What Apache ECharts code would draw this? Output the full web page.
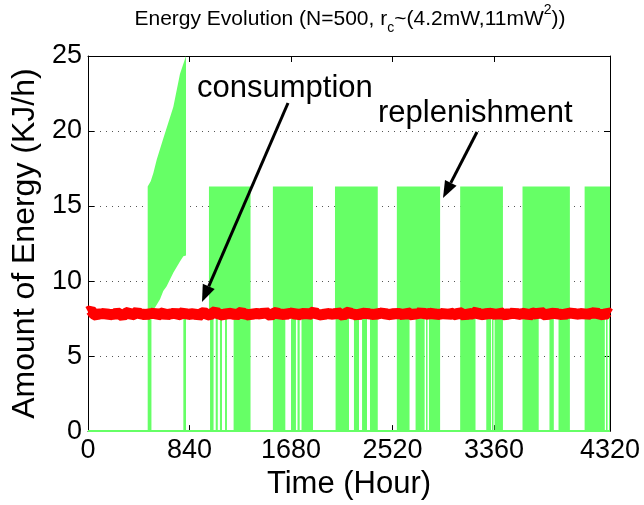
<!DOCTYPE html>
<html>
<head>
<meta charset="utf-8">
<title>Energy Evolution</title>
<script src="https://cdn.jsdelivr.net/npm/echarts@6/dist/echarts.min.js"></script>
<style>
  html, body { margin: 0; padding: 0; background: #fff; }
  #chart { width: 644px; height: 505px; }
</style>
</head>
<body>
<div id="chart"></div>
<script>
// Axis ticks
const xTicks = [0, 840, 1680, 2520, 3360, 4320];
const yTicks = [0, 5, 10, 15, 20, 25];

// Replenishment: periods where the harvested energy oscillates between
// the consumption level and the charged level [start hour, end hour]
const chargeBlocks = [[1001, 1345], [1530, 1862], [2044, 2398], [2556, 2914], [3080, 3434], [3596, 3988], [4110, 4320]];
const chargeLow = 7.8;
const chargeHigh = 16.3;

// Intervals in which replenishment drops all the way to zero [start hour, end hour]
const zeroDips = [
  [494, 525], [789, 811],
  [1010, 1039], [1057, 1074], [1092, 1109], [1134, 1150], [1205, 1345],
  [1530, 1633], [1680, 1721], [1734, 1752], [1767, 1862],
  [2049, 2160], [2201, 2243], [2268, 2309], [2334, 2398],
  [2556, 2661], [2711, 2786], [2797, 2810], [2822, 2914],
  [3080, 3207], [3296, 3335], [3343, 3356], [3365, 3434],
  [3596, 3730], [3819, 3855], [3894, 3988],
  [4110, 4277], [4287, 4300], [4312, 4320]
];

// Initial surge: upper and lower envelopes of the oscillation
const surgeUpperHours = [494, 519, 541, 569, 623, 706, 761, 811];
const surgeUpper = [16.3, 16.65, 17.2, 18.1, 19.5, 21.6, 23.8, 25.0];
const surgeLowerHours = [494, 525, 560, 596, 623, 651, 706, 761, 789, 811];
const surgeLower = [7.9, 7.9, 8.3, 8.78, 9.33, 9.66, 10.55, 11.3, 11.65, 11.7];

// Consumption, sampled every 24 hours from 0 to 4320
const sampleStep = 24;
const consumption = [
  7.95, 8.05, 7.80, 7.70, 7.88, 7.76, 7.92, 7.68, 7.83, 7.74,
  7.90, 7.79, 7.66, 7.85, 7.93, 7.72, 7.81, 7.97, 7.75, 7.84,
  7.69, 7.88, 7.78, 7.94, 7.71, 7.82, 7.90, 7.67, 7.86, 7.77,
  7.92, 7.73, 7.80, 7.96, 7.70, 7.85, 7.76, 7.89, 7.64, 7.83,
  7.91, 7.78, 7.72, 7.87, 7.99, 7.74, 7.81, 7.68, 7.93, 7.79,
  7.86, 7.70, 7.84, 7.95, 7.75, 7.82, 7.66, 7.90, 7.78, 7.88,
  7.73, 7.97, 7.80, 7.69, 7.85, 7.92, 7.76, 7.83, 7.71, 7.89,
  7.79, 7.94, 7.67, 7.84, 7.77, 7.91, 7.74, 7.86, 7.98, 7.72,
  7.81, 7.68, 7.90, 7.78, 7.85, 7.73, 7.93, 7.80, 7.70, 7.87,
  7.95, 7.76, 7.83, 7.65, 7.89, 7.79, 7.92, 7.74, 7.84, 7.71,
  7.88, 7.80, 7.96, 7.69, 7.82, 7.75, 7.90, 7.78, 7.86, 7.67,
  7.93, 7.81, 7.72, 7.87, 7.77, 7.99, 7.73, 7.85, 7.79, 7.91,
  7.70, 7.84, 7.76, 7.94, 7.68, 7.88, 7.80, 7.74, 7.92, 7.83,
  7.66, 7.89, 7.78, 7.85, 7.97, 7.71, 7.82, 7.75, 7.90, 7.79,
  7.87, 7.69, 7.93, 7.80, 7.73, 7.86, 7.77, 7.95, 7.72, 7.84,
  7.78, 7.91, 7.67, 7.83, 7.88, 7.74, 7.96, 7.81, 7.70, 7.86,
  7.79, 7.92, 7.75, 7.84, 7.68, 7.89, 7.80, 7.94, 7.73, 7.85,
  7.77, 7.90, 7.71, 7.87, 7.82, 7.96, 7.74, 7.83, 7.69, 7.92,
  7.80
];

const GREEN = '#66ff66';
const RED = '#ff0000';
const FONT = '"Liberation Sans", Arial, Helvetica, sans-serif';

const chart = echarts.init(document.getElementById('chart'), null, { renderer: 'canvas' });

function bandItem(params, api) {
  const p0 = api.coord([api.value(0), api.value(3)]);
  const p1 = api.coord([api.value(1), api.value(2)]);
  return {
    type: 'rect',
    shape: { x: p0[0], y: p0[1], width: Math.max(p1[0] - p0[0], 1), height: p1[1] - p0[1] },
    style: { fill: GREEN }
  };
}

function surgeItem(params, api) {
  const pts = [];
  for (let i = 0; i < surgeUpperHours.length; i++) pts.push(api.coord([surgeUpperHours[i], surgeUpper[i]]));
  for (let i = surgeLowerHours.length - 1; i >= 0; i--) pts.push(api.coord([surgeLowerHours[i], surgeLower[i]]));
  return { type: 'polygon', shape: { points: pts }, style: { fill: GREEN } };
}

const consumptionData = consumption.map((v, i) => [i * sampleStep, v]);
const chargeData = chargeBlocks.map(b => [b[0], b[1], chargeLow, chargeHigh]);
const dipData = zeroDips.map(b => [b[0], b[1], 0, chargeLow + 0.2]);

const axisColor = '#000';
const plainNumber = v => String(v);
const baseX = {
  type: 'value', min: 0, max: 4320,
  axisLine: { show: true, onZero: false, lineStyle: { color: axisColor, width: 1 } },
  axisTick: { show: true, inside: true, length: 6, customValues: xTicks, lineStyle: { color: axisColor } },
  splitLine: { show: false }
};
const baseY = {
  type: 'value', min: 0, max: 25, interval: 5,
  axisLine: { show: true, onZero: false, lineStyle: { color: axisColor, width: 1 } },
  axisTick: { show: true, inside: true, length: 6, lineStyle: { color: axisColor } }
};

const option = {
  animation: false,
  backgroundColor: '#fff',
  textStyle: { fontFamily: FONT },
  grid: { left: 88, top: 56, width: 522, height: 376, containLabel: false },
  xAxis: [
    Object.assign({}, baseX, {
      position: 'bottom',
      axisLabel: { customValues: xTicks, formatter: plainNumber, color: '#000', fontSize: 27, margin: 6, fontFamily: FONT },
      name: 'Time (Hour)', nameLocation: 'middle', nameGap: 34,
      nameTextStyle: { color: '#000', fontSize: 31, fontFamily: FONT }
    }),
    Object.assign({}, baseX, { position: 'top', axisLabel: { show: false } })
  ],
  yAxis: [
    Object.assign({}, baseY, {
      position: 'left',
      axisLabel: { formatter: plainNumber, color: '#000', fontSize: 27, margin: 6, fontFamily: FONT },
      splitLine: { show: true, lineStyle: { color: '#555', width: 1, type: [1, 5] } },
      name: 'Amount of Energy (KJ/h)', nameLocation: 'middle', nameGap: 46, nameRotate: 90,
      nameTextStyle: { color: '#000', fontSize: 32, fontFamily: FONT }
    }),
    Object.assign({}, baseY, { position: 'right', axisLabel: { show: false }, splitLine: { show: false } })
  ],
  series: [
    {
      type: 'line', name: 'replenishment floor', xAxisIndex: 0, yAxisIndex: 0,
      data: [[0, 0], [4320, 0]], symbol: 'none',
      lineStyle: { color: GREEN, width: 2 }, z: 3
    },
    {
      type: 'custom', name: 'replenishment', renderItem: bandItem, data: chargeData,
      encode: { x: [0, 1], y: [2, 3] }, clip: true, z: 3
    },
    {
      type: 'custom', name: 'replenishment dips', renderItem: bandItem, data: dipData,
      encode: { x: [0, 1], y: [2, 3] }, clip: true, z: 3
    },
    {
      type: 'custom', name: 'replenishment surge', renderItem: surgeItem, data: [[494, 811, 7.9, 25]],
      encode: { x: [0, 1], y: [2, 3] }, clip: true, z: 3
    },
    {
      type: 'line', name: 'consumption', data: consumptionData, symbol: 'none', clip: true,
      lineStyle: { color: RED, width: 11, join: 'bevel', cap: 'butt' }, z: 4
    }
  ]
};

chart.setOption(option);

// Arrow made of a shaft and a filled head
function arrow(x1, y1, x2, y2) {
  const ang = Math.atan2(y2 - y1, x2 - x1);
  const len = 17, half = 6.5;
  const bx = x2 - len * Math.cos(ang), by = y2 - len * Math.sin(ang);
  const nx = -Math.sin(ang), ny = Math.cos(ang);
  return [
    { type: 'line', shape: { x1: x1, y1: y1, x2: bx, y2: by }, style: { stroke: '#000', lineWidth: 3 }, z: 10 },
    { type: 'polygon', shape: { points: [[x2, y2], [bx + nx * half, by + ny * half], [bx - nx * half, by - ny * half]] },
      style: { fill: '#000' }, z: 10 }
  ];
}

// Title (with subscript and superscript) and the two annotations
chart.setOption({
  graphic: [
    {
      type: 'text', x: 350, y: 19, z: 10,
      style: {
        text: 'Energy Evolution (N=500, r{sub|c}~(4.2mW,11mW{sup|2}))',
        fontFamily: FONT, fontSize: 21, fill: '#000',
        align: 'center', verticalAlign: 'middle',
        rich: {
          sub: { fontSize: 14, verticalAlign: 'bottom', lineHeight: 32 },
          sup: { fontSize: 14, verticalAlign: 'top', lineHeight: 32 }
        }
      }
    },
    {
      type: 'text', x: 197, y: 88, z: 10,
      style: { text: 'consumption', fontFamily: FONT, fontSize: 31, fill: '#000', align: 'left', verticalAlign: 'middle' }
    },
    {
      type: 'text', x: 378, y: 113, z: 10,
      style: { text: 'replenishment', fontFamily: FONT, fontSize: 31, fill: '#000', align: 'left', verticalAlign: 'middle' }
    }
  ].concat(arrow(288, 103, 202, 302)).concat(arrow(477, 132, 443, 198))
});
</script>
</body>
</html>
